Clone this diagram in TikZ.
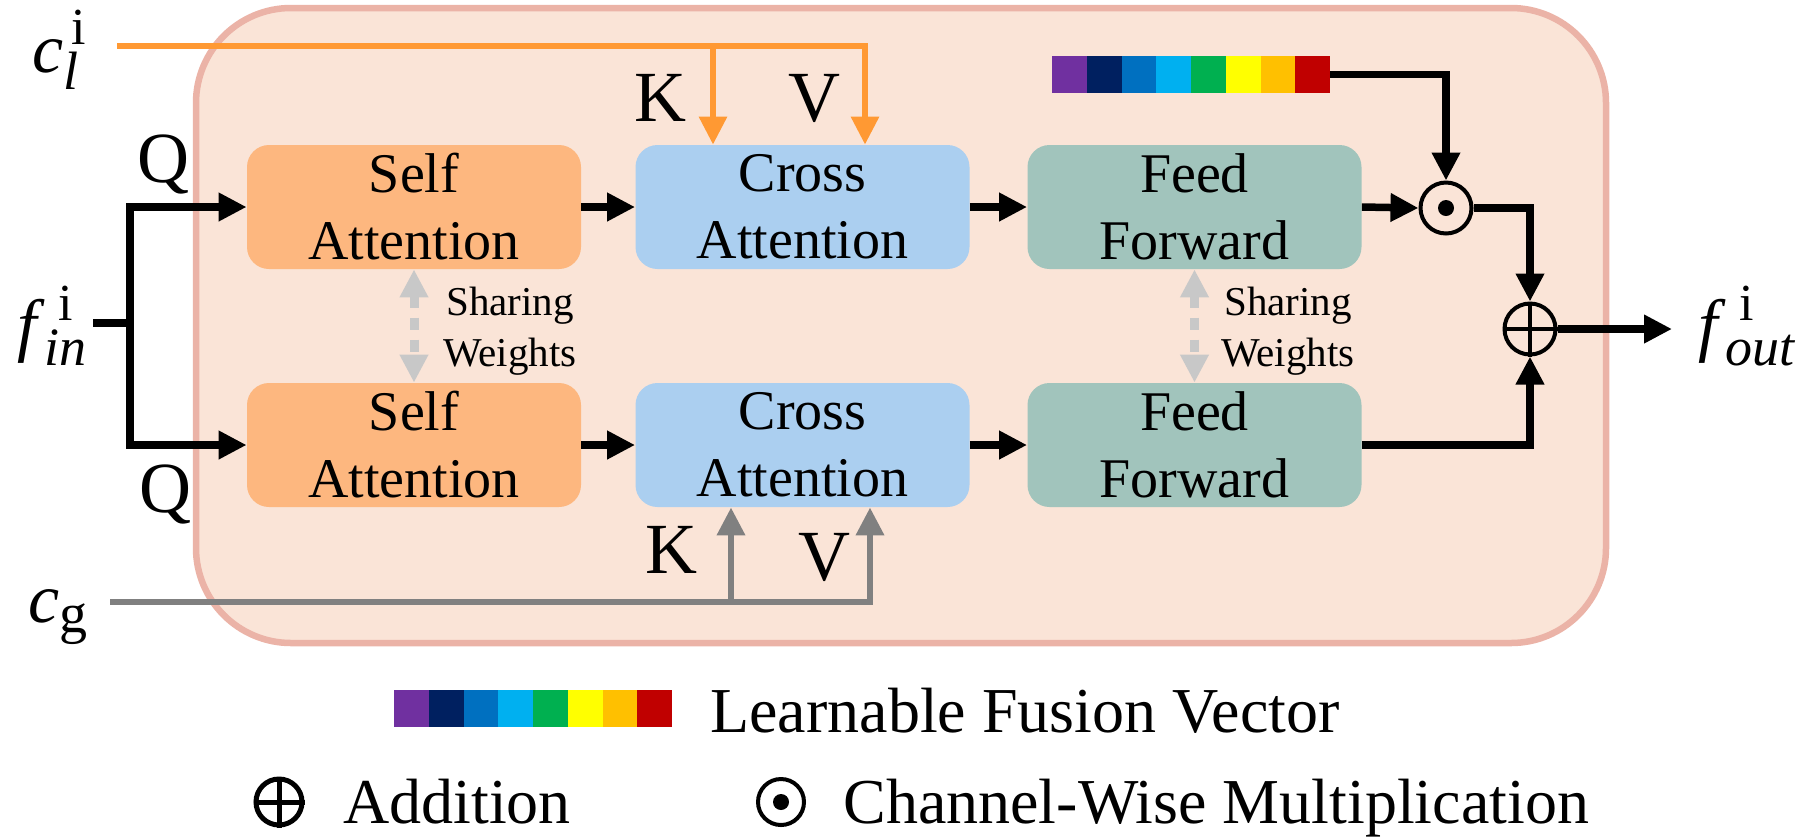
\documentclass[tikz,border=0pt]{standalone}
\usepackage{fontspec}
\setmainfont{Liberation Serif}
\usetikzlibrary{arrows.meta,calc}
\definecolor{framefill}{HTML}{FAE4D7}
\definecolor{framedraw}{HTML}{EBB3A7}
\definecolor{selfc}{HTML}{FDB77F}
\definecolor{crossc}{HTML}{ABCFF0}
\definecolor{ffc}{HTML}{A1C4BC}
\definecolor{orangeln}{HTML}{FF9933}
\definecolor{grayln}{HTML}{808080}
\definecolor{sharec}{HTML}{C8C8C8}
\definecolor{vA}{HTML}{7030A0}
\definecolor{vB}{HTML}{002060}
\definecolor{vC}{HTML}{0070C0}
\definecolor{vD}{HTML}{00B0F0}
\definecolor{vE}{HTML}{00B050}
\definecolor{vF}{HTML}{FFFF00}
\definecolor{vG}{HTML}{FFC000}
\definecolor{vH}{HTML}{C00000}
% base, sup kern, sup, sub kern, sub
\newcommand{\mlab}[5]{\textit{#1}\rlap{\kern#2\raisebox{14pt}{\fontsize{26}{26}\selectfont #3}}\kern#4\raisebox{-8.5pt}{\fontsize{27}{27}\selectfont\itshape #5}}
\tikzset{
  tip/.tip={Triangle[length=14pt,width=13.5pt]},
  framebox/.style={draw=framedraw, fill=framefill, line width=3.25pt, rounded corners=47.5pt,
    minimum width=705pt, minimum height=317.5pt, inner sep=0pt},
  blockbox/.style={rounded corners=11pt, minimum width=167pt, minimum height=62pt, inner sep=0pt,
    align=center, font=\fontsize{28}{33.5}\selectfont},
  lbl/.style={inner sep=0pt, anchor=base west, font=\fontsize{35}{42}\selectfont},
  kvlabel/.style={inner sep=0pt, anchor=base, font=\fontsize{36}{43}\selectfont},
  sharetext/.style={inner sep=0pt, align=center, font=\fontsize{20.5}{25.5}\selectfont},
  legtext/.style={inner sep=0pt, anchor=base west, font=\fontsize{32}{38}\selectfont},
  blkline/.style={line width=3.75pt, black},
  blkarrow/.style={blkline, -tip},
  orarrow/.style={line width=3pt, orangeln, -tip},
  grarrow/.style={line width=3.3pt, grayln, -tip},
  sharearrow/.style={line width=4.5pt, sharec, dash pattern=on 6pt off 5pt, tip-tip},
  circnode/.style={circle, draw, line width=2pt, minimum size=25.5pt, inner sep=0pt},
  vecnode/.style={inner sep=0pt, minimum width=139pt, minimum height=18.5pt},
}
\begin{document}
\begin{tikzpicture}[x=0.5pt, y=-0.5pt]
\useasboundingbox (0,0) rectangle (1803,837);

% frame
\node[framebox] (frm) at (901,325.5) {};

% blocks
\node[blockbox, fill=selfc]  (sa1) at (414,207)   {Self\\Attention};
\node[blockbox, fill=crossc] (ca1) at (802.5,207) {Cross\\Attention};
\node[blockbox, fill=ffc]    (ff1) at (1194.5,207) {Feed\\Forward};
\node[blockbox, fill=selfc]  (sa2) at (414,445)   {Self\\Attention};
\node[blockbox, fill=crossc] (ca2) at (802.5,445) {Cross\\Attention};
\node[blockbox, fill=ffc]    (ff2) at (1194.5,445) {Feed\\Forward};

% fusion vector
\node[vecnode] (vec) at (1191,74.5) {};
\foreach \c [count=\i from 0] in {vA,vB,vC,vD,vE,vF,vG,vH}
  \fill[\c] ({1052+\i*34.75},56) rectangle ++(34.75,37);

% operators
\node[circnode] (odot) at (1446,208) {};
\fill (odot.center) circle[radius=4pt];
\node[circnode] (oplus) at (1530,329) {};
\draw[line width=2pt] (oplus.north) -- (oplus.south) (oplus.west) -- (oplus.east);

% labels
\node[lbl] (cl) at (32,72) {\mlab{c}{4pt}{i}{0pt}{l}};
\node[lbl] (fin) at (17,348) {\mlab{f}{7pt}{i}{0pt}{in}};
\node[lbl] (fout) at (1698,348) {\mlab{f}{7pt}{i}{0pt}{out}};
\node[lbl] (cg) at (28,622) {\textit{c}\raisebox{-5pt}{\fontsize{28}{28}\selectfont g}};

\node[kvlabel] (qt) at (163,182) {Q};
\node[kvlabel] (qb) at (165,512) {Q};
\node[kvlabel] (kt) at (660,121) {K};
\node[kvlabel] (vt) at (814,121) {V};
\node[kvlabel] (kb) at (671,573) {K};
\node[kvlabel] (vb) at (824,580) {V};

\node[sharetext] (sw1) at (510,331) {Sharing\\Weights};
\node[sharetext] (sw2) at (1288,331) {Sharing\\Weights};

% coordinates for free ends
\coordinate (fstub) at (93,323);
\coordinate (fsplit) at (130,323);
\coordinate (clstart) at (117,46);
\coordinate (kT) at (713,46);
\coordinate (vT) at (865,46);
\coordinate (cgstart) at (110,602);
\coordinate (kB) at (731,602);
\coordinate (vBB) at (870,602);
\coordinate (outtip) at (1672,329);

% orange connectors
\draw[orarrow] (clstart) -- (vT) -- (vT |- ca1.north);
\draw[orarrow] (kT) -- (kT |- ca1.north);

% gray connectors
\draw[grarrow] (cgstart) -- (vBB) -- (vBB |- ca2.south);
\draw[grarrow] (kB) -- (kB |- ca2.south);

% input split
\draw[blkline] (fstub) -- (fsplit);
\draw[blkarrow] (fsplit) |- (sa1.west);
\draw[blkarrow] (fsplit) |- (sa2.west);

% block chain
\draw[blkarrow] (sa1.east) -- (ca1.west);
\draw[blkarrow] (ca1.east) -- (ff1.west);
\draw[blkarrow] (sa2.east) -- (ca2.west);
\draw[blkarrow] (ca2.east) -- (ff2.west);

% fusion
\draw[blkarrow] (ff1.east) -- (odot.west);
\draw[blkarrow] (vec.east) -| (odot.north);
\draw[blkarrow] (odot.east) -| (oplus.north);
\draw[blkarrow] (ff2.east) -| (oplus.south);
\draw[blkarrow] (oplus.east) -- (outtip);

% sharing weights
\draw[sharearrow] (sa1.south) -- (sa2.north);
\draw[sharearrow] (ff1.south) -- (ff2.north);

% legend
\node[vecnode] (lvec) at (533,708.5) {};
\foreach \c [count=\i from 0] in {vA,vB,vC,vD,vE,vF,vG,vH}
  \fill[\c] ({394+\i*34.75},690) rectangle ++(34.75,37);
\node[legtext] (legv) at (710,732) {Learnable Fusion Vector};

\node[circnode, line width=2.5pt, minimum size=23pt] (lplus) at (279,802) {};
\draw[line width=2.5pt] (lplus.north) -- (lplus.south) (lplus.west) -- (lplus.east);
\node[legtext] (legadd) at (343,823) {Addition};

\node[circnode, minimum size=23pt] (ldot) at (781,802) {};
\fill (ldot.center) circle[radius=4pt];
\node[legtext] (legmul) at (843,823) {Channel-Wise Multiplication};
\end{tikzpicture}
\end{document}
